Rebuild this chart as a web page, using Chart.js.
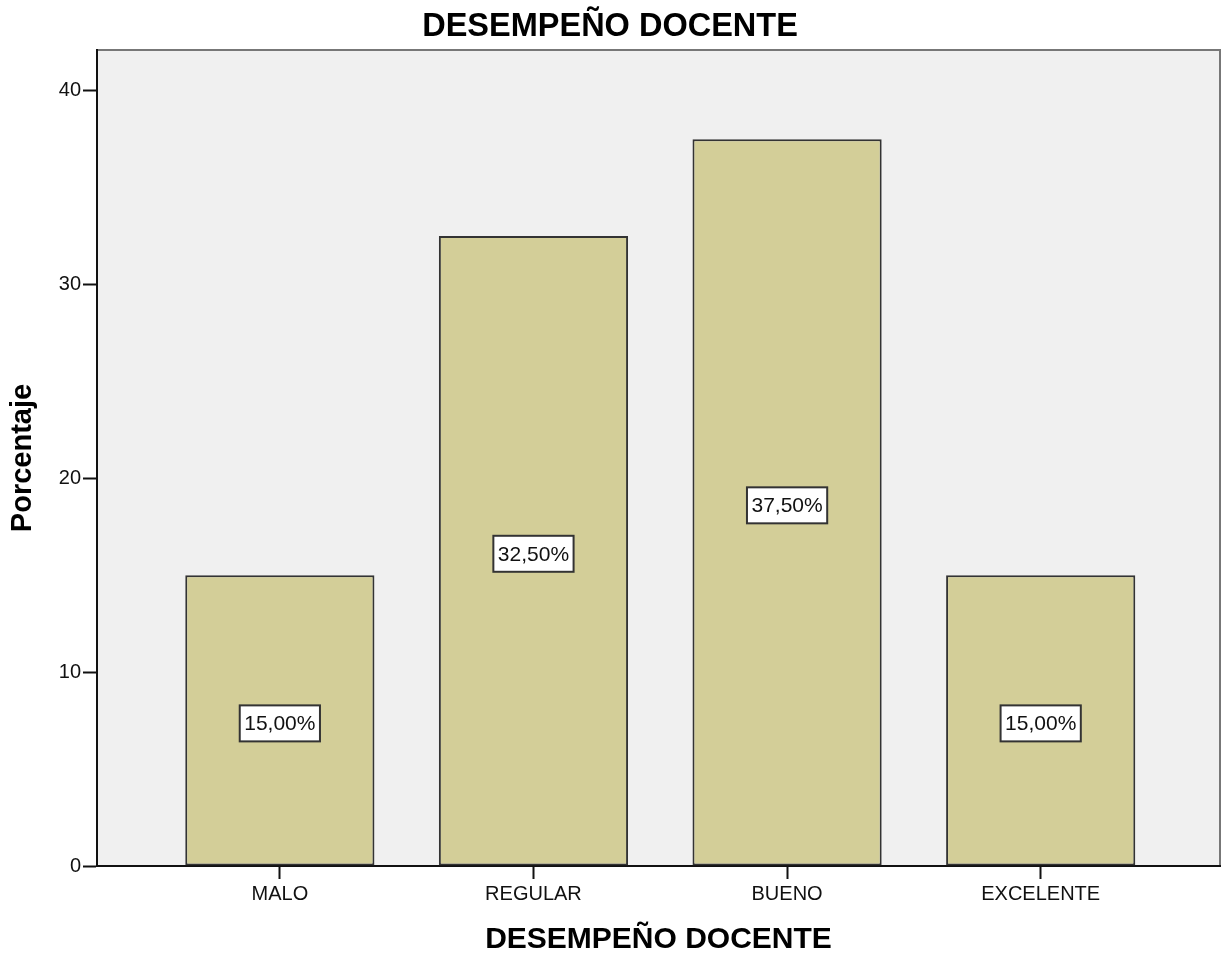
<!DOCTYPE html>
<html>
<head>
<meta charset="utf-8">
<script src="https://cdn.jsdelivr.net/npm/chart.js@4.4.0/dist/chart.umd.min.js"></script>
<style>
  html, body { margin: 0; padding: 0; background: #ffffff; }
  #wrap { width: 1223px; height: 956px; }
</style>
</head>
<body>
<div id="wrap"><canvas id="grafico"></canvas></div>
<script>
const categorias = ["MALO", "REGULAR", "BUENO", "EXCELENTE"];
const porcentajes = [15, 32.5, 37.5, 15];
const ticksY = [0, 10, 20, 30, 40];

const fuente = "'Liberation Sans', Arial, sans-serif";

// fondo gris y borde del panel
const panelFondo = {
  id: "panelFondo",
  beforeDraw(chart) {
    const { ctx, chartArea: a } = chart;
    ctx.save();
    ctx.fillStyle = "#f0f0f0";
    ctx.fillRect(a.left, a.top, a.right - a.left, a.bottom - a.top);
    ctx.strokeStyle = "#777777";
    ctx.lineWidth = 2;
    ctx.beginPath();
    ctx.moveTo(a.left, a.top);
    ctx.lineTo(a.right, a.top);
    ctx.lineTo(a.right, a.bottom);
    ctx.stroke();
    ctx.restore();
  },
};

// etiquetas con el porcentaje dentro de cada barra
const etiquetas = {
  id: "etiquetas",
  afterDatasetsDraw(chart) {
    const { ctx } = chart;
    const meta = chart.getDatasetMeta(0);
    ctx.save();
    ctx.font = "21px " + fuente;
    ctx.textAlign = "center";
    ctx.textBaseline = "middle";
    meta.data.forEach((bar, i) => {
      const txt = porcentajes[i].toFixed(2).replace(".", ",") + "%";
      const cx = bar.x;
      const cy = (bar.y + bar.base) / 2 + 3;
      const w = ctx.measureText(txt).width + 9;
      const h = 36;
      ctx.fillStyle = "#ffffff";
      ctx.fillRect(cx - w / 2, cy - h / 2, w, h);
      ctx.strokeStyle = "#333333";
      ctx.lineWidth = 2;
      ctx.strokeRect(cx - w / 2, cy - h / 2, w, h);
      ctx.fillStyle = "#111111";
      ctx.fillText(txt, cx, cy + 1);
    });
    ctx.restore();
  },
};

new Chart(document.getElementById("grafico"), {
  type: "bar",
  data: {
    datasets: [
      {
        label: "Porcentaje",
        data: porcentajes.map((v, i) => ({ x: i, y: v })),
        backgroundColor: "#d3ce98",
        borderColor: "#333333",
        borderWidth: 2,
        borderSkipped: false,
        barPercentage: 0.746,
        categoryPercentage: 1,
      },
    ],
  },
  options: {
    responsive: true,
    maintainAspectRatio: false,
    animation: false,
    layout: { padding: { left: 0, right: 3, top: 0, bottom: 0 } },
    plugins: {
      legend: { display: false },
      tooltip: { enabled: false },
      title: {
        display: true,
        text: "DESEMPEÑO DOCENTE",
        color: "#000000",
        font: { family: fuente, size: 32.5, weight: "bold", lineHeight: 1.2 },
        padding: { top: 8, bottom: 3 },
      },
    },
    scales: {
      x: {
        type: "linear",
        min: -0.721,
        max: 3.707,
        offset: false,
        afterBuildTicks(scale) {
          scale.ticks = categorias.map((c, i) => ({ value: i }));
        },
        afterFit(scale) {
          scale.height = 90;
        },
        ticks: {
          color: "#111111",
          font: { family: fuente, size: 20 },
          padding: 3,
          maxRotation: 0,
          autoSkip: false,
          callback: (v) => categorias[v],
        },
        grid: {
          offset: false,
          drawOnChartArea: false,
          drawTicks: true,
          tickLength: 13,
          tickWidth: 2,
          tickColor: "#111111",
        },
        border: { color: "#111111", width: 2 },
        title: {
          display: true,
          text: "DESEMPEÑO DOCENTE",
          color: "#000000",
          font: { family: fuente, size: 30, weight: "bold", lineHeight: 1.1 },
          padding: { top: 4, bottom: 0 },
        },
      },
      y: {
        min: 0,
        max: 42.1,
        afterBuildTicks(scale) {
          scale.ticks = ticksY.map((v) => ({ value: v }));
        },
        afterFit(scale) {
          scale.width = 97;
        },
        ticks: {
          color: "#111111",
          font: { family: fuente, size: 20 },
          padding: 2,
        },
        grid: {
          drawOnChartArea: false,
          drawTicks: true,
          tickLength: 14,
          tickWidth: 2,
          tickColor: "#111111",
        },
        border: { color: "#111111", width: 2 },
        title: {
          display: true,
          text: "Porcentaje",
          color: "#000000",
          font: { family: fuente, size: 29, weight: "bold" },
          padding: { top: 6, bottom: 0 },
        },
      },
    },
  },
  plugins: [panelFondo, etiquetas],
});
</script>
</body>
</html>
